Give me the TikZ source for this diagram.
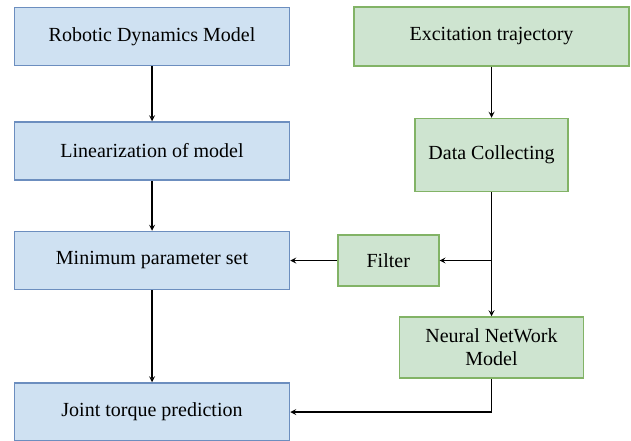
\documentclass[tikz,border=0pt]{standalone}
\usepackage{fontspec}
\setmainfont{Liberation Serif}
\newfontfamily\boxfont{Liberation Serif}
\usetikzlibrary{positioning}
\usepackage{xcolor}
\definecolor{bluefill}{RGB}{207,225,242}
\definecolor{blueline}{RGB}{108,142,191}
\definecolor{greenfill}{RGB}{206,228,208}
\definecolor{greenline}{RGB}{130,179,102}

\begin{document}
\begin{tikzpicture}[
    x=1pt, y=1pt,
    blueblock/.style={draw=blueline, fill=bluefill, line width=1.5pt, rectangle, minimum width=275pt, minimum height=58pt, inner sep=0pt, align=center, font=\boxfont\fontsize{20}{23}\selectfont},
    greenblock/.style={draw=greenline, fill=greenfill, line width=1.5pt, rectangle, inner sep=0pt, align=center, font=\boxfont\fontsize{20}{23}\selectfont},
    arrow/.style={line width=1.6pt,->,>=stealth}
]
  \useasboundingbox (0,0) rectangle (631,440);

  % Left column
  \node (dyn) [blueblock] at (152,403.5) {Robotic Dynamics Model};
  \node (lin) [blueblock, below=55pt of dyn] {Linearization of model};
  \node (mps) [blueblock, below=50pt of lin] {Minimum parameter set};
  \node (jtp) [blueblock, below=92pt of mps] {Joint torque prediction};

  % Right column
  \node (exc) [greenblock, minimum width=275pt, minimum height=59pt, right=63pt of dyn] {Excitation trajectory};
  \node (dat) [greenblock, minimum width=153pt, minimum height=73pt, below=51pt of exc] {Data Collecting};
  \node (nnm) [greenblock, minimum width=184pt, minimum height=61pt, below=124pt of dat] {Neural NetWork\\Model};
  \coordinate (split) at (dat.south |- mps.east);
  \node (flt) [greenblock, minimum width=101pt, minimum height=51pt, left=52pt of split] {Filter};

  % Arrows
  \draw [arrow] (dyn) -- (lin);
  \draw [arrow] (lin) -- (mps);
  \draw [arrow] (mps) -- (jtp);
  \draw [arrow] (exc) -- (dat);
  \draw [arrow] (dat) -- (nnm);
  \draw [arrow] (split) -- (flt);
  \draw [arrow] (flt) -- (mps);
  \draw [arrow] (nnm.south) |- (jtp.east);
\end{tikzpicture}
\end{document}
